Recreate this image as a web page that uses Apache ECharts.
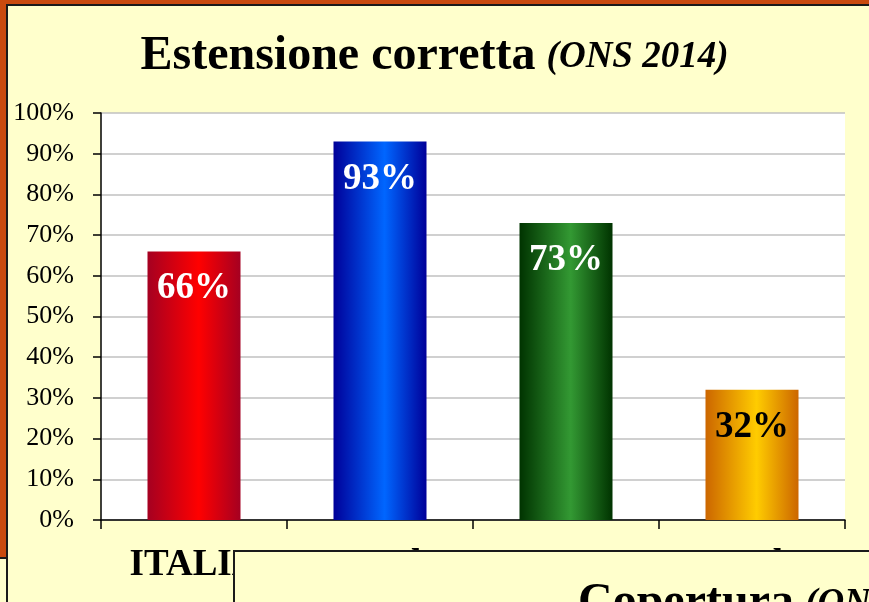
<!DOCTYPE html>
<html>
<head>
<meta charset="utf-8">
<script src="https://cdn.jsdelivr.net/npm/echarts@6/dist/echarts.min.js"></script>
<style>
  html, body { margin: 0; padding: 0; }
  #main { width: 869px; height: 602px; }
</style>
</head>
<body>
<div id="main"></div>
<script>
var categories = ['ITALIA', 'Nord', 'Centro', 'Sud'];
var values = [66, 93, 73, 32];
var yTicks = [0, 10, 20, 30, 40, 50, 60, 70, 80, 90, 100];

// colori delle barre: bordo scuro, centro chiaro
var barEdge = ['#A50021', '#000099', '#003300', '#CC6600'];
var barMid = ['#FF0000', '#0066FF', '#339933', '#FFCC00'];
var labelColor = ['#fff', '#fff', '#fff', '#000'];

var serif = "'Liberation Serif', 'Times New Roman', serif";

function gradient(i) {
  return new echarts.graphic.LinearGradient(0, 0, 1, 0, [
    { offset: 0, color: barEdge[i] },
    { offset: 0.55, color: barMid[i] },
    { offset: 1, color: barEdge[i] }
  ]);
}

var chart = echarts.init(document.getElementById('main'));

var barData = values.map(function (v, i) {
  return {
    value: v,
    itemStyle: { color: gradient(i) },
    label: { color: labelColor[i] }
  };
});

var titleRich = {
  a: { fontFamily: serif, fontWeight: 'bold', fontSize: 48, color: '#000', fill: '#000' },
  s: { fontSize: 20 },
  b: { fontFamily: serif, fontWeight: 'bold', fontStyle: 'italic', fontSize: 37, color: '#000', fill: '#000' }
};

chart.setOption({
  animation: false,
  title: {
    text: '{a|Estensione corretta}{s|  }{b|(ONS 2014)}',
    left: 'center',
    top: 28,
    textStyle: { rich: titleRich }
  },
  grid: {
    left: 101,
    right: 24,
    top: 113,
    bottom: 82,
    show: true,
    backgroundColor: '#fff',
    borderWidth: 0
  },
  xAxis: {
    type: 'category',
    data: categories,
    axisLine: { lineStyle: { color: '#000', width: 1.5 } },
    axisTick: { show: true, length: 9, lineStyle: { color: '#000', width: 1.5 } },
    axisLabel: {
      margin: 27,
      fontFamily: serif,
      fontWeight: 'bold',
      fontSize: 37,
      color: '#000'
    }
  },
  yAxis: {
    type: 'value',
    min: 0,
    max: 100,
    interval: 10,
    axisLine: { show: true, lineStyle: { color: '#000', width: 1.5 } },
    axisTick: { show: true, length: 8, lineStyle: { color: '#000', width: 1.5 } },
    axisLabel: {
      margin: 27,
      fontFamily: serif,
      fontSize: 26,
      color: '#000',
      formatter: function (v) {
        return yTicks.indexOf(v) >= 0 ? v + '%' : '';
      }
    },
    splitLine: { lineStyle: { color: '#c0c0c0', width: 1.5 } }
  },
  series: [{
    type: 'bar',
    data: barData,
    barWidth: '50%',
    label: {
      show: true,
      position: 'insideTop',
      distance: 19,
      fontFamily: serif,
      fontWeight: 'bold',
      fontSize: 37,
      formatter: '{c}%'
    }
  }],
  graphic: [
    // cornice arancione e pannello
    { type: 'rect', z: -10, shape: { x: 0, y: 0, width: 869, height: 602 }, style: { fill: '#C94A0E' } },
    { type: 'rect', z: -9, shape: { x: 7, y: 5, width: 900, height: 700 },
      style: { fill: '#FFFFCC', stroke: '#1a1a1a', lineWidth: 2 } },
    { type: 'rect', z: -9, shape: { x: -3, y: 558, width: 10, height: 60 },
      style: { fill: '#FFFFCC', stroke: '#1a1a1a', lineWidth: 2 } },
    // seconda diapositiva sovrapposta
    { type: 'rect', z: 100, shape: { x: 234, y: 551, width: 700, height: 100 },
      style: { fill: '#FFFFCC', stroke: '#1a1a1a', lineWidth: 2 } },
    { type: 'text', z: 101, left: 578, top: 580,
      style: {
        text: '{a|Copertura}{s|  }{b|(ONS 2014)}',
        rich: titleRich
      }
    }
  ]
});
</script>
</body>
</html>
